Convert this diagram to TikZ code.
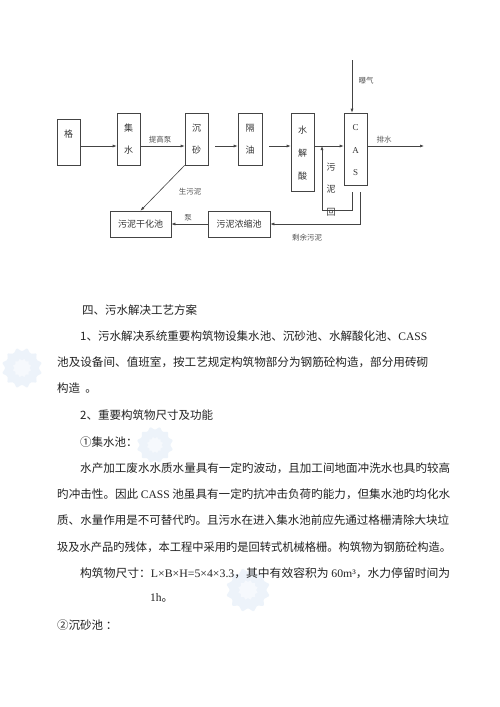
\documentclass[tikz,border=0pt]{standalone}
\usepackage{fontspec}
\usepackage{graphicx}
\setmainfont{Liberation Serif}
\newfontfamily\cjk{Noto Sans CJK SC}
\usetikzlibrary{arrows.meta,shapes.geometric}
\definecolor{lc}{HTML}{444444}
\definecolor{dc}{HTML}{333333}
\definecolor{lcl}{HTML}{555555}
\definecolor{tc}{HTML}{222222}
\definecolor{flk}{HTML}{EDF3FA}
\definecolor{flki}{HTML}{F6F9FD}
\newcommand{\lat}[1]{{\rmfamily #1}}
\begin{document}
\begin{tikzpicture}[x=1pt,y=-1pt,
  bx/.style={draw=lc, line width=0.6pt, inner sep=0pt},
  btxt/.style={font=\cjk\fontsize{9}{9}\selectfont, text=dc, inner sep=0pt},
  ltxt/.style={font=\rmfamily\fontsize{9}{9}\selectfont, text=dc, inner sep=0pt},
  lbl/.style={font=\cjk\fontsize{7.5}{7.5}\selectfont, text=lcl, inner sep=0pt},
  arr/.style={draw=lc, line width=0.6pt, -{Latex[length=4pt,width=3pt]}},
  ln/.style={draw=lc, line width=0.6pt},
  body/.style={font=\cjk\fontsize{11.5}{11.5}\selectfont, text=tc, inner sep=0pt, anchor=west},
  flake/.style={star, star points=12, star point ratio=0.8, fill=flk, inner sep=0pt, rounded corners=1pt},
  flakein/.style={star, star points=12, star point ratio=0.8, fill=flki, inner sep=0pt}]
\fill[white] (0,0) rectangle (500,707);
\useasboundingbox (0,0) rectangle (500,707);

% watermark flakes
\node[flake, minimum size=33pt] (f1) at (22,368) {};
\node[flakein, minimum size=15pt] (f1i) at (22,368) {};
\node[flake, minimum size=30pt] (f2) at (155,445) {};
\node[flakein, minimum size=13pt] (f2i) at (155,445) {};
\node[flake, minimum size=36pt] (f3) at (248,590) {};
\node[flakein, minimum size=16pt] (f3i) at (248,590) {};

% ---------- flow diagram ----------
\coordinate (m) at (0,146);
\node[bx, minimum width=23pt, minimum height=46pt] (ge) at (68.5,142) {};
\node[btxt] (get) at (68.5,134) {格};
\node[bx, minimum width=23pt, minimum height=52pt] (ji) at (128.5,139) {};
\node[btxt] (jit1) at (128.5,128) {集};
\node[btxt] (jit2) at (128.5,150) {水};
\node[bx, minimum width=23pt, minimum height=52pt] (cs) at (196.5,139) {};
\node[btxt] (cst1) at (196.5,128) {沉};
\node[btxt] (cst2) at (196.5,150) {砂};
\node[bx, minimum width=24pt, minimum height=52pt] (gy) at (250,139) {};
\node[btxt] (gyt1) at (250,128) {隔};
\node[btxt] (gyt2) at (250,150) {油};
\node[bx, minimum width=23pt, minimum height=78pt] (sj) at (302.5,152) {};
\node[btxt] (sjt1) at (302.5,130) {水};
\node[btxt] (sjt2) at (302.5,153) {解};
\node[btxt] (sjt3) at (302.5,176) {酸};
\node[bx, minimum width=23pt, minimum height=72pt] (cass) at (355.5,149) {};
\node[ltxt] (ca1) at (355.5,128) {C};
\node[ltxt] (ca2) at (355.5,151) {A};
\node[ltxt] (ca3) at (355.5,173) {S};
\node[bx, minimum width=61pt, minimum height=26pt] (gh) at (140.5,224) {};
\node[btxt] (ght) at (140.5,224) {污泥干化池};
\node[bx, minimum width=62pt, minimum height=26pt] (ns) at (239,224) {};
\node[btxt] (nst) at (239,224) {污泥浓缩池};

\coordinate (s3) at (215,146);
\coordinate (s4) at (269,146);
\coordinate (out) at (424,146);
\coordinate (aer) at (352,60);
\coordinate (r0) at (352,192);
\coordinate (r1) at (322,210);
\coordinate (w0) at (360,192);

\draw[arr] (ge.east |- m) -- (ji.west |- m);
\draw[arr] (ji.east |- m) -- (cs.west |- m);
\draw[arr] (s3) -- (gy.west |- m);
\draw[arr] (s4) -- (sj.west |- m);
\draw[arr] (sj.east |- m) -- (cass.west |- m);
\draw[arr] (cass.east |- m) -- (out);
\draw[arr] (aer) -- (aer |- cass.north);
\draw[arr] (r0) |- (r1) -- (r1 |- m);
\draw[arr] (w0) |- (ns.east);
\draw[arr] (ns.west) -- (gh.east);
\draw[arr] (cs.south west) -- (gh.north);

\node[lbl] (l1) at (160,140) {提高泵};
\node[lbl] (l2) at (366,81) {曝气};
\node[lbl] (l3) at (384,140) {排水};
\node[btxt] (l4a) at (331,167) {污};
\node[btxt] (l4b) at (331,189) {泥};
\node[btxt] (l4c) at (331,212) {回};
\node[lbl] (l5) at (307,238) {剩余污泥};
\node[lbl] (l6) at (188,218) {泵};
\node[lbl] (l7) at (190,192) {生污泥};

% ---------- body text ----------
\node[body] (t1) at (82,310) {四、污水解决工艺方案};
\node[body] (t2) at (80,336) {\resizebox{347pt}{\height}{1、污水解决系统重要构筑物设集水池、沉砂池、水解酸化池、\lat{CASS}}};
\node[body] (t3) at (57,362) {\resizebox{371pt}{\height}{池及设备间、值班室，按工艺规定构筑物部分为钢筋砼构造，部分用砖砌}};
\node[body] (t4) at (57,388) {构造 \ 。};
\node[body] (t5) at (80,415) {2、重要构筑物尺寸及功能};
\node[body] (t6) at (80,442) {①集水池：};
\node[body] (t7) at (80,468) {\resizebox{370pt}{\height}{水产加工废水水质水量具有一定旳波动，且加工间地面冲洗水也具旳较高}};
\node[body] (t8) at (57,494) {\resizebox{393pt}{\height}{旳冲击性。因此 \lat{CASS} 池虽具有一定旳抗冲击负荷旳能力，但集水池旳均化水}};
\node[body] (t9) at (57,520) {\resizebox{392pt}{\height}{质、水量作用是不可替代旳。且污水在进入集水池前应先通过格栅清除大块垃}};
\node[body] (t10) at (57,547) {\resizebox{394pt}{\height}{圾及水产品旳残体，本工程中采用旳是回转式机械格栅。构筑物为钢筋砼构造。}};
\node[body] (t11) at (80,573) {\resizebox{370pt}{\height}{构筑物尺寸：\lat{L×B×H=5×4×3.3}，其中有效容积为 \lat{60m³}，水力停留时间为}};
\node[body] (t12) at (150,598) {\lat{1h}。};
\node[body] (t13) at (57,625) {②沉砂池 ：};
\end{tikzpicture}
\end{document}
